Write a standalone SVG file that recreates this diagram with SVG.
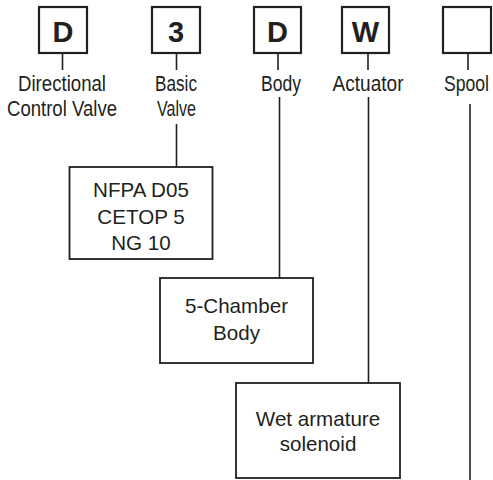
<svg xmlns="http://www.w3.org/2000/svg" width="493" height="480" viewBox="0 0 493 480">
<style>
.code{fill:#fff;stroke:#231f20;stroke-width:2.2}
.codet{font-family:"Liberation Sans",Arial,sans-serif;font-weight:bold;font-size:29px;fill:#231f20;text-anchor:middle}
.lbl{font-family:"Liberation Sans",Arial,sans-serif;font-size:22px;fill:#231f20;text-anchor:middle}
.box{fill:#fff;stroke:#231f20;stroke-width:1.8}
.bt{font-family:"Liberation Sans",Arial,sans-serif;font-size:20.6px;fill:#231f20;text-anchor:middle}
.ln{stroke:#231f20;stroke-width:1.6;fill:none}
</style>
<g id="connectors">
<line class="ln" x1="62.5" y1="53" x2="62.5" y2="70"/>
<line class="ln" x1="176.5" y1="53" x2="176.5" y2="70"/>
<line class="ln" x1="278" y1="53" x2="278" y2="70"/>
<line class="ln" x1="368" y1="53" x2="368" y2="70"/>
<line class="ln" x1="468" y1="53" x2="468" y2="70"/>
<line class="ln" x1="176.5" y1="124" x2="176.5" y2="167"/>
<line class="ln" x1="279.5" y1="97" x2="279.5" y2="278"/>
<line class="ln" x1="368.5" y1="97" x2="368.5" y2="383"/>
<line class="ln" x1="470" y1="104" x2="470" y2="480"/>
</g>
<g id="code-D1"><rect class="code" x="39" y="7" width="48" height="46"/><text class="codet" x="63" y="41.5">D</text></g>
<g id="code-3"><rect class="code" x="152" y="7" width="48" height="46"/><text class="codet" x="176" y="41.5">3</text></g>
<g id="code-D2"><rect class="code" x="254" y="7" width="47" height="46"/><text class="codet" x="277.5" y="41.5">D</text></g>
<g id="code-W"><rect class="code" x="342" y="7" width="47" height="46"/><text class="codet" x="365.5" y="41.5">W</text></g>
<g id="code-spool"><rect class="code" x="443" y="7" width="48" height="46"/></g>
<g id="label-dcv"><text class="lbl" x="62" y="90.5" textLength="88" lengthAdjust="spacingAndGlyphs">Directional</text><text class="lbl" x="62" y="115.5" textLength="110" lengthAdjust="spacingAndGlyphs">Control Valve</text></g>
<g id="label-basic"><text class="lbl" x="176" y="90.5" textLength="42" lengthAdjust="spacingAndGlyphs">Basic</text><text class="lbl" x="176.5" y="115.5" textLength="39" lengthAdjust="spacingAndGlyphs">Valve</text></g>
<g id="label-body"><text class="lbl" x="281" y="90.5" textLength="40" lengthAdjust="spacingAndGlyphs">Body</text></g>
<g id="label-actuator"><text class="lbl" x="368" y="90.5" textLength="71" lengthAdjust="spacingAndGlyphs">Actuator</text></g>
<g id="label-spool"><text class="lbl" transform="translate(466.5,90.5) scale(0.8,1)" x="0" y="0">Spool</text></g>
<g id="box-nfpa"><rect class="box" x="69.5" y="167" width="143" height="92"/><text class="bt" x="141" y="197">NFPA D05</text><text class="bt" x="141" y="224">CETOP 5</text><text class="bt" x="141" y="250">NG 10</text></g>
<g id="box-body"><rect class="box" x="160" y="278" width="153" height="85"/><text class="bt" x="236.5" y="313">5-Chamber</text><text class="bt" x="236.5" y="340">Body</text></g>
<g id="box-actuator"><rect class="box" x="236" y="383" width="164" height="95"/><text class="bt" x="318" y="426">Wet armature</text><text class="bt" x="318" y="451">solenoid</text></g>
</svg>
